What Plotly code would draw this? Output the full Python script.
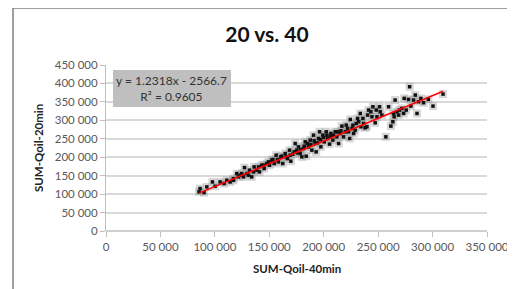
import plotly.graph_objects as go

# SUM-Qoil-40min (x) and SUM-Qoil-20min (y)
qoil_40 = [
    85500, 86400, 90100, 92600, 97800, 100200, 104800, 108500, 110900, 114000,
    117000, 120100, 123200, 126300, 127200, 129300, 131800, 133900, 136100, 138500,
    141000, 143100, 145300, 147700, 150200, 152300, 154500, 156300, 158400, 160600,
    162400, 164600, 166700, 168600, 169800, 171600, 173800, 175300, 176800, 178400,
    179900, 181400, 183000, 183900, 186000, 187600, 189100, 190600, 192200, 193100,
    195200, 196200, 197400, 199200, 200500, 202300, 203500, 205400, 206600, 208400,
    210600, 212100, 213700, 215100, 216700, 218200, 220700, 222800, 223800, 224400,
    226000, 227500, 229900, 232100, 233600, 234200, 236000, 238000, 239700, 241200,
    243300, 245200, 247300, 248900, 251300, 253400, 257100, 261700, 263500, 264100,
    264700, 265600, 267200, 269600, 271800, 273900, 275800, 277900, 278900, 280100,
    282500, 284100, 287100, 289300, 291700, 296100, 300400, 309600,
    117100, 121700, 124700, 130900, 135500, 140100, 144700, 149300, 153300, 157500,
    161500, 165500, 169200, 172900, 175900, 179000, 182100, 185100, 188200, 191200,
    194300, 196800, 199800, 202900, 206000, 209000, 212700, 215800, 219800, 221900,
    226800, 228900, 231100, 236600, 240300, 244300, 248300, 251900, 259600, 268800,
    273400, 285700,
]
qoil_20 = [
    106000, 115000, 104000, 119500, 133000, 121300, 133000, 128600, 137600, 133000,
    142000, 155700, 151200, 146700, 172000, 155700, 164800, 146700, 173800, 164800,
    160300, 178400, 169300, 182900, 178400, 192000, 182900, 205500, 187400, 201000,
    182900, 210000, 196500, 219100, 189200, 208200, 237200, 219100, 228200, 210000,
    201000, 223600, 241700, 202800, 228200, 246300, 219100, 259800, 237200, 214600,
    250800, 268900, 228200, 259800, 241700, 268900, 250800, 235400, 264400, 246300,
    268900, 255300, 237200, 264400, 284300, 255300, 287000, 268900, 250800, 302400,
    278000, 264400, 291500, 296100, 318700, 282500, 305100, 279800, 282500, 327800,
    323200, 336800, 293300, 309600, 336800, 314200, 255300, 284300, 296100, 318700,
    309600, 354900, 323200, 327800, 332300, 359500, 327800, 356800, 391100, 338600,
    354900, 368500, 350400, 359500, 347700, 356800, 338600, 371200,
    137600, 146700, 155700, 151200, 160300, 173800, 178400, 187400, 193800, 193800,
    202800, 201000, 205500, 214600, 211900, 220900, 230000, 237200, 234500, 244500,
    239000, 248100, 253500, 259800, 255300, 259800, 268900, 271600, 268900, 278000,
    287000, 273400, 305100, 291500, 314200, 309600, 327800, 323200, 336800, 314200,
    318700, 318700,
]

# Trendline as displayed on the chart
slope = 1.2318
intercept = -2566.7
r2 = 0.9605
trend_x = [min(qoil_40), max(qoil_40)]
trend_y = [slope * v + intercept for v in trend_x]

x_ticks = [0, 50000, 100000, 150000, 200000, 250000, 300000, 350000]
y_ticks = [0, 50000, 100000, 150000, 200000, 250000, 300000, 350000, 400000, 450000]

# the page body adds an 8px offset; figure coordinates = screen - 8
OFF = 8
PL, PT, PW, PH = 106 - OFF, 65 - OFF, 381, 165.7
W, H = 515, 289


def px(sx):
    return (sx - OFF - PL) / PW


def py(sy):
    return (PT + PH - (sy - OFF)) / PH


fig = go.Figure()
fig.add_trace(go.Scatter(
    x=qoil_40, y=qoil_20, mode="markers",
    marker=dict(symbol="square", size=8, color="rgba(150,150,150,0.38)", line=dict(width=0)),
    hoverinfo="skip", showlegend=False,
))
fig.add_trace(go.Scatter(
    x=qoil_40, y=qoil_20, mode="markers",
    marker=dict(symbol="square", size=3.5, color="#111111", line=dict(width=0)),
    showlegend=False,
))
fig.add_trace(go.Scatter(
    x=trend_x, y=trend_y, mode="lines",
    line=dict(color="#ff0000", width=1.5), showlegend=False,
))

tick_font = dict(family="Lato, sans-serif", size=11.5, color="#595959")

fig.update_layout(
    width=W, height=H,
    margin=dict(l=PL, r=W - PL - PW, t=PT, b=H - PT - PH),
    paper_bgcolor="white", plot_bgcolor="white",
    separators=". ",
    title=dict(text="<b>20 vs. 40</b>", x=(267 - OFF) / W, xanchor="center",
               y=1 - (35 - OFF) / H, yanchor="middle",
               font=dict(family="Lato, sans-serif", size=21, color="#111111")),
    xaxis=dict(range=[0, 350000], tickvals=x_ticks, tickformat=",d",
               showgrid=False, zeroline=False, showline=False,
               ticks="outside", ticklen=5, tickcolor="#bfbfbf", tickwidth=1,
               tickfont=tick_font, fixedrange=True),
    yaxis=dict(range=[0, 450000], tickvals=y_ticks, tickformat=",d",
               showgrid=True, gridcolor="#d9d9d9", gridwidth=1.5,
               zeroline=False, showline=True, linecolor="#bfbfbf", linewidth=1,
               ticks="outside", ticklen=5, tickcolor="#bfbfbf", tickwidth=1,
               tickfont=tick_font, fixedrange=True),
    font=dict(family="Lato, sans-serif"),
)

# outer chart border
fig.add_shape(type="rect", xref="paper", yref="paper",
              x0=px(13), x1=1.3, y0=-0.6, y1=py(8),
              line=dict(color="#808080", width=1.5), fillcolor="rgba(0,0,0,0)", layer="below")
# x axis line at bottom
fig.add_shape(type="line", xref="paper", yref="paper", x0=0, x1=1, y0=0, y1=0,
              line=dict(color="#bfbfbf", width=1.5))

# equation box
fig.add_shape(type="rect", xref="paper", yref="paper",
              x0=px(113), x1=px(231), y0=py(107), y1=py(70),
              fillcolor="#bfbfbf", line=dict(width=0), layer="above")
fig.add_annotation(xref="paper", yref="paper", x=px(171.6), y=py(88.5),
                   xanchor="center", yanchor="middle",
                   text=f"y = {slope}x - {abs(intercept)}<br>R² = {r2}", showarrow=False,
                   font=dict(family="Lato, sans-serif", size=12, color="#333333"))

# axis titles
fig.add_annotation(xref="paper", yref="paper", x=px(38), y=0.5,
                   xanchor="center", yanchor="middle", textangle=-90,
                   text="<b>SUM-Qoil-20min</b>", showarrow=False,
                   font=dict(family="Lato, sans-serif", size=11.5, color="#222222"))
fig.add_annotation(xref="paper", yref="paper", x=0.5, y=py(268),
                   xanchor="center", yanchor="middle",
                   text="<b>SUM-Qoil-40min</b>", showarrow=False,
                   font=dict(family="Lato, sans-serif", size=11.5, color="#222222"))

fig.write_html("out.html")
